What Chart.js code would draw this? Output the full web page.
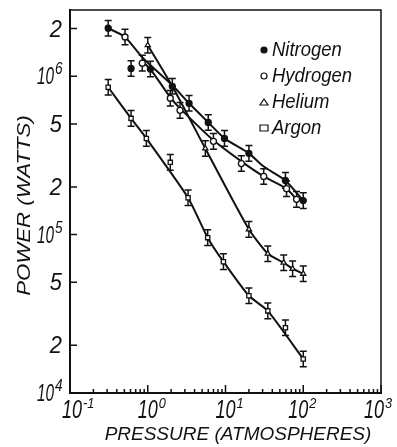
<!DOCTYPE html>
<html>
<head>
<meta charset="utf-8">
<script src="https://cdn.jsdelivr.net/npm/chart.js@4/dist/chart.umd.min.js"></script>
<style>
  html, body { margin: 0; padding: 0; background: #fff; }
  #wrap { width: 397px; height: 447px; position: relative; }
</style>
</head>
<body>
<div id="wrap"><canvas id="chart"></canvas></div>
<script>
const FONT = "'Liberation Sans', 'DejaVu Sans', sans-serif";

// measured points: pressure (atm) and power (watts)
const nitrogenP = [0.31, 0.61, 1.08, 2.07, 3.4, 6.0, 9.7, 20, 59, 100];
const nitrogenW = [2.01e6, 1.12e6, 1.11e6, 8.64e5, 6.75e5, 5.11e5, 4.05e5, 3.26e5, 2.2e5, 1.64e5];
const hydrogenP = [0.51, 0.85, 1.95, 2.6, 7.0, 16, 31, 61, 82];
const hydrogenW = [1.77e6, 1.21e6, 7.26e5, 6.09e5, 3.88e5, 2.81e5, 2.33e5, 1.95e5, 1.67e5];
const heliumP = [1.0, 5.5, 20, 35, 56, 73, 100];
const heliumW = [1.57e6, 3.5e5, 1.08e5, 7.58e4, 6.65e4, 6.09e4, 5.66e4];
const argonP = [0.31, 0.61, 0.96, 1.95, 3.3, 5.9, 9.4, 20, 35, 59, 100];
const argonW = [8.52e5, 5.42e5, 4.05e5, 2.86e5, 1.71e5, 9.57e4, 6.75e4, 4.11e4, 3.3e4, 2.58e4, 1.64e4];

// drawn curves through the data
const nitrogenCurveP = [0.31, 0.51, 0.87, 2.07, 3.4, 6.0, 9.7, 20, 31, 59, 100];
const nitrogenCurveW = [2.01e6, 1.77e6, 1.3e6, 8.77e5, 6.75e5, 5.11e5, 4.05e5, 3.26e5, 2.69e5, 2.2e5, 1.64e5];
const hydrogenCurveP = [0.87, 1.08, 1.95, 2.6, 7.0, 16, 31, 61, 82];
const hydrogenCurveW = [1.23e6, 1.11e6, 7.36e5, 6.27e5, 3.94e5, 2.9e5, 2.33e5, 1.95e5, 1.67e5];
const heliumCurveP = [1.0, 2.07, 5.5, 20, 35, 56, 73, 100];
const heliumCurveW = [1.57e6, 8.64e5, 3.5e5, 1.08e5, 7.58e4, 6.65e4, 6.09e4, 5.66e4];
const argonCurveP = [0.31, 0.61, 0.96, 3.3, 5.9, 9.4, 20, 35, 100];
const argonCurveW = [8.52e5, 5.42e5, 4.05e5, 1.71e5, 9.57e4, 6.75e4, 4.11e4, 3.3e4, 1.64e4];

const errFrac = 0.12; // relative error bar half-height

const gases = ['Nitrogen', 'Hydrogen', 'Helium', 'Argon'];
const xTicks = [0.1, 1, 10, 100, 1000];
const xTickLabels = ['10^-1', '10^0', '10^1', '10^2', '10^3'];
const yTicks = [1e4, 2e4, 5e4, 1e5, 2e5, 5e5, 1e6, 2e6];
const yTickLabels = ['10^4', '2', '5', '10^5', '2', '5', '10^6', '2'];
const minorMults = [2, 3, 4, 5, 6, 7, 8, 9];
const xTitle = 'PRESSURE (ATMOSPHERES)';
const yTitle = 'POWER (WATTS)';

const toXY = (xs, ys) => xs.map((x, i) => ({ x: x, y: ys[i] }));

const curve = (xs, ys) => ({
  data: toXY(xs, ys),
  showLine: true,
  borderColor: '#111',
  borderWidth: 2,
  pointRadius: 0,
  tension: 0.2,
  order: 2,
});

const markers = (label, xs, ys, style, fill) => ({
  label: label,
  data: toXY(xs, ys),
  pointStyle: style,
  pointRadius: 3,
  backgroundColor: fill,
  borderColor: '#111',
  borderWidth: 1.3,
  errorBars: true,
  order: 1,
});

const pointLook = {
  Nitrogen: { style: 'circle', fill: '#111' },
  Hydrogen: { style: 'circle', fill: '#fff' },
  Helium: { style: 'triangle', fill: '#fff' },
  Argon: { style: 'rect', fill: '#fff' },
};

// text squeezed horizontally, like the narrow lettering of the original
function scaledText(ctx, text, x, y, sx, align) {
  ctx.save();
  ctx.translate(x, y);
  ctx.scale(sx, 1);
  ctx.textAlign = align;
  ctx.fillText(text, 0, 0);
  ctx.restore();
}

const errorBarPlugin = {
  id: 'errorBars',
  beforeDatasetsDraw(chart) {
    const { ctx, scales: { x, y } } = chart;
    ctx.save();
    ctx.strokeStyle = '#111';
    ctx.lineWidth = 1.5;
    chart.data.datasets.forEach((ds) => {
      if (!ds.errorBars) return;
      ds.data.forEach((p) => {
        const px = x.getPixelForValue(p.x);
        const top = y.getPixelForValue(p.y * (1 + errFrac));
        const bot = y.getPixelForValue(p.y / (1 + errFrac));
        ctx.beginPath();
        ctx.moveTo(px, top);
        ctx.lineTo(px, bot);
        ctx.moveTo(px - 3.5, top);
        ctx.lineTo(px + 3.5, top);
        ctx.moveTo(px - 3.5, bot);
        ctx.lineTo(px + 3.5, bot);
        ctx.stroke();
      });
    });
    ctx.restore();
  },
};

const axisText = {
  id: 'axisText',
  afterDraw(chart) {
    const { ctx, chartArea: a, scales: { x, y } } = chart;
    const nudge = [2, 0, 0, -5, -7]; // hand placement of the x labels
    ctx.save();
    ctx.fillStyle = '#111';
    ctx.textBaseline = 'alphabetic';

    // x tick labels: "10" near the tick, exponent raised to the right
    xTicks.forEach((v, i) => {
      const px = x.getPixelForValue(v) + nudge[i];
      const [base, exp] = xTickLabels[i].split('^');
      ctx.font = 'italic 25px ' + FONT;
      const w = ctx.measureText(base).width * 0.72;
      scaledText(ctx, base, px, a.bottom + 25, 0.72, 'center');
      ctx.font = 'italic 15px ' + FONT;
      scaledText(ctx, exp, px + w / 2 + 1, a.bottom + 15, 0.85, 'left');
    });

    // y tick labels
    yTicks.forEach((v, i) => {
      const py = y.getPixelForValue(v);
      const parts = yTickLabels[i].split('^');
      if (parts.length === 2) {
        ctx.font = 'italic 24px ' + FONT;
        scaledText(ctx, parts[0], a.left - 16, py + 8, 0.64, 'right');
        ctx.font = 'italic 16px ' + FONT;
        scaledText(ctx, parts[1], a.left - 15, py - 2, 0.85, 'left');
      } else {
        ctx.font = 'italic 23px ' + FONT;
        scaledText(ctx, parts[0], a.left - 8, py + 8, 0.95, 'right');
      }
    });

    // axis titles
    ctx.font = 'italic 19px ' + FONT;
    ctx.textBaseline = 'middle';
    scaledText(ctx, xTitle, 238, a.bottom + 42, 1.0, 'center');
    ctx.save();
    ctx.translate(25, (a.top + a.bottom) / 2 + 4);
    ctx.rotate(-Math.PI / 2);
    scaledText(ctx, yTitle, 0, 0, 1.17, 'center');
    ctx.restore();
    ctx.restore();
  },
};

const frameAndLegend = {
  id: 'frameAndLegend',
  afterDraw(chart) {
    const { ctx, chartArea: a, scales: { x, y } } = chart;
    ctx.save();
    ctx.strokeStyle = '#111';
    // top and right border
    ctx.lineWidth = 1.5;
    ctx.beginPath();
    ctx.moveTo(a.left, a.top);
    ctx.lineTo(a.right, a.top);
    ctx.lineTo(a.right, a.bottom);
    ctx.stroke();
    // inward ticks
    ctx.beginPath();
    yTicks.forEach((v) => {
      const py = y.getPixelForValue(v);
      ctx.moveTo(a.left, py);
      ctx.lineTo(a.left + 7, py);
    });
    xTicks.forEach((v) => {
      const px = x.getPixelForValue(v);
      ctx.moveTo(px, a.bottom);
      ctx.lineTo(px, a.bottom - 8);
      if (v < 1000) {
        minorMults.forEach((m) => {
          const mx = x.getPixelForValue(v * m);
          ctx.moveTo(mx, a.bottom);
          ctx.lineTo(mx, a.bottom - 4);
        });
      }
    });
    ctx.stroke();

    // legend
    ctx.textBaseline = 'middle';
    const lx = a.right - 117;
    gases.forEach((g, i) => {
      const ly = a.top + 40 + i * 26;
      const look = pointLook[g];
      ctx.lineWidth = 1.2;
      ctx.fillStyle = look.fill;
      ctx.beginPath();
      if (look.style === 'circle') {
        ctx.arc(lx, ly, 3, 0, Math.PI * 2);
      } else if (look.style === 'triangle') {
        ctx.moveTo(lx - 4, ly + 3);
        ctx.lineTo(lx + 4, ly + 3);
        ctx.lineTo(lx, ly - 3);
        ctx.closePath();
      } else {
        ctx.rect(lx - 4, ly - 3, 8, 6);
      }
      ctx.fill();
      ctx.stroke();
      ctx.fillStyle = '#111';
      ctx.font = 'italic 21px ' + FONT;
      scaledText(ctx, g, lx + 8, ly, 0.88, 'left');
    });
    ctx.restore();
  },
};

new Chart(document.getElementById('chart'), {
  type: 'scatter',
  data: {
    datasets: [
      curve(nitrogenCurveP, nitrogenCurveW),
      curve(hydrogenCurveP, hydrogenCurveW),
      curve(heliumCurveP, heliumCurveW),
      curve(argonCurveP, argonCurveW),
      markers('Nitrogen', nitrogenP, nitrogenW, pointLook.Nitrogen.style, pointLook.Nitrogen.fill),
      markers('Hydrogen', hydrogenP, hydrogenW, pointLook.Hydrogen.style, pointLook.Hydrogen.fill),
      markers('Helium', heliumP, heliumW, pointLook.Helium.style, pointLook.Helium.fill),
      markers('Argon', argonP, argonW, pointLook.Argon.style, pointLook.Argon.fill),
    ],
  },
  options: {
    responsive: true,
    maintainAspectRatio: false,
    animation: false,
    layout: { padding: { top: 10, right: 16, left: 0, bottom: 0 } },
    plugins: {
      legend: { display: false },
      tooltip: { enabled: false },
    },
    scales: {
      x: {
        type: 'logarithmic',
        min: 0.1,
        max: 1000,
        afterBuildTicks: (s) => {
          s.ticks = xTicks.map((v) => ({ value: v }));
        },
        afterFit: (s) => {
          s.height = 54;
        },
        ticks: { display: false },
        grid: { display: true, drawOnChartArea: false, drawTicks: false },
        border: { display: true, color: '#111', width: 2 },
        title: { display: false },
      },
      y: {
        type: 'logarithmic',
        min: 1e4,
        max: 2.62e6,
        afterBuildTicks: (s) => {
          s.ticks = yTicks.map((v) => ({ value: v }));
        },
        afterFit: (s) => {
          s.width = 70;
        },
        ticks: { display: false },
        grid: { display: true, drawOnChartArea: false, drawTicks: false },
        border: { display: true, color: '#111', width: 2 },
        title: { display: false },
      },
    },
  },
  plugins: [errorBarPlugin, axisText, frameAndLegend],
});
</script>
</body>
</html>
